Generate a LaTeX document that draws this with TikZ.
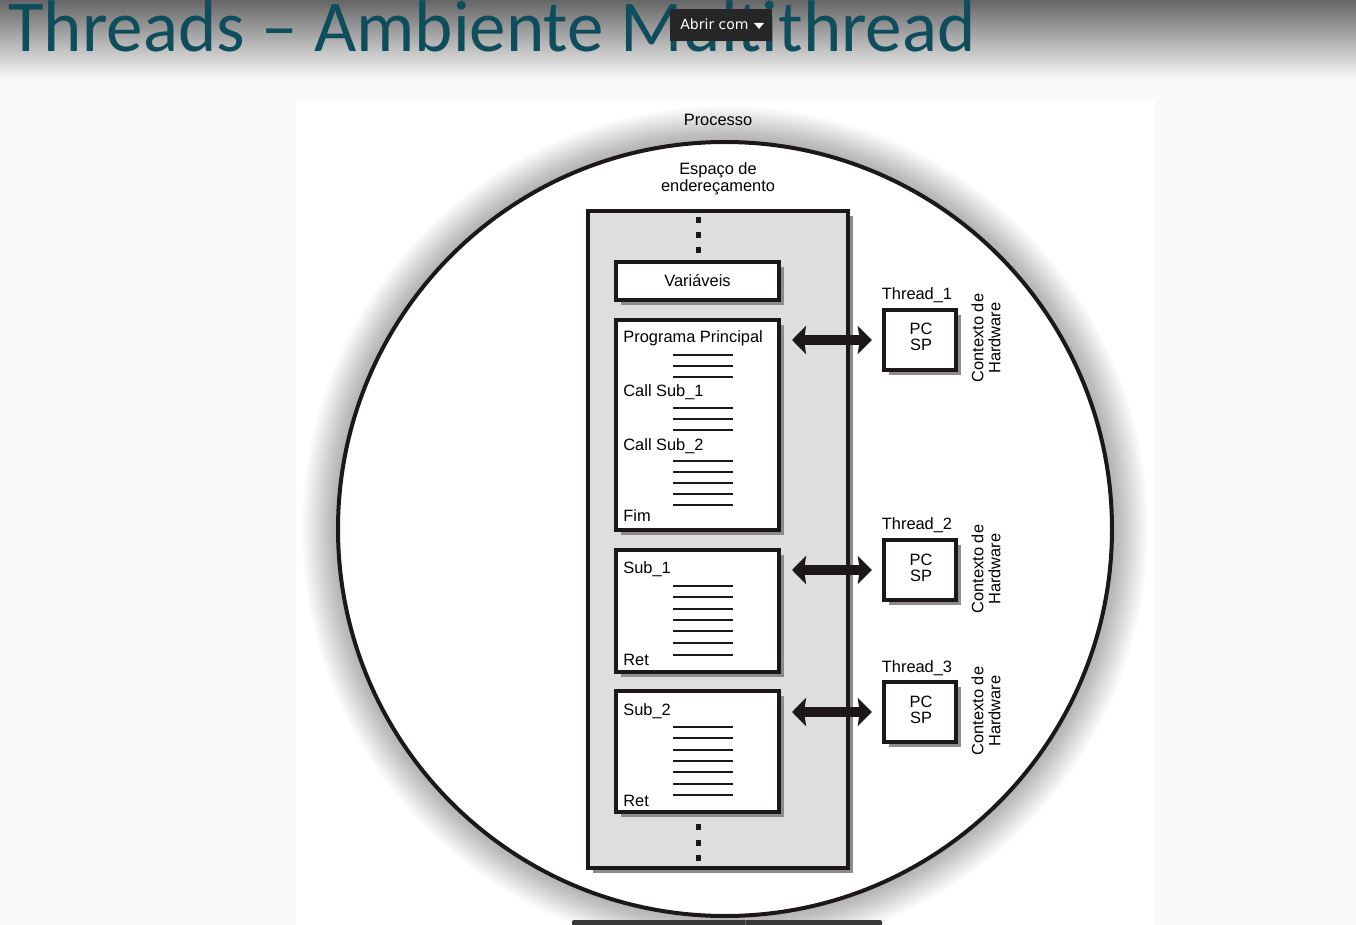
\documentclass[tikz,border=0pt]{standalone}
\usepackage{fontspec}
\setmainfont{Liberation Sans}
\newfontfamily\titlefont{Carlito}
\newfontfamily\uifont{DejaVu Sans}
\usetikzlibrary{shadows,arrows.meta}
\definecolor{titleteal}{RGB}{14,77,92}
\definecolor{boxgray}{RGB}{222,222,222}
\definecolor{shadowgray}{RGB}{140,140,140}
\definecolor{ink}{RGB}{28,24,24}
\begin{document}
\begin{tikzpicture}[x=0.5pt,y=-0.5pt,
  lbl/.style={inner sep=0pt, font=\fontsize{8.2}{9.6}\selectfont},
  boxshadow/.style={drop shadow={shadow xshift=2.5pt, shadow yshift=-2.5pt, fill=shadowgray, opacity=1}},
  codebox/.style={draw=ink, line width=2pt, fill=white, inner sep=0pt, minimum width=81.5pt, boxshadow},
  threadbox/.style={draw=ink, line width=2.2pt, fill=white, inner sep=0pt, minimum width=36pt, minimum height=30pt, boxshadow},
  dotsq/.style={fill=ink, inner sep=0pt, minimum width=2.5pt, minimum height=3pt},
  codeline/.style={draw=ink, line width=1pt},
  dblarrow/.style={draw=ink, line width=5pt, {Stealth[length=7pt,width=14pt,inset=1pt]}-{Stealth[length=7pt,width=14pt,inset=1pt]}, shorten <=5.5pt, shorten >=5pt},
  ctx/.style={lbl, rotate=90, align=center, font=\fontsize{8.2}{8.4}\selectfont}
]
\useasboundingbox (0,0) rectangle (1356,925);
% background
\fill[black!2] (0,0) rectangle (1356,925);
\fill[top color=black!60, bottom color=black!2] (0,0) rectangle (1356,80);
\fill[white] (296,100) rectangle (1155,925);
% title
\node[anchor=base west, inner sep=0pt, font=\titlefont\fontsize{36.5}{40}\selectfont, text=titleteal] (title) at (8,52) {Threads – Ambiente Multithread};
\node[fill=black!85, minimum width=51pt, minimum height=16pt, inner sep=0pt] (abrir) at (721,25) {};
\node[anchor=base west, inner sep=0pt, text=white, font=\uifont\fontsize{7}{8}\selectfont] (abrirtxt) at (680,30) {Abrir com};
\fill[white] (754,23) -- (764,23) -- (759,29) -- cycle;
% circle halo
\foreach \i in {1,...,20} {
  \fill[black, opacity=0.014] (725,529) circle[radius=387+1.8*\i];
}
\node[circle, draw=ink, line width=2pt, fill=white, minimum size=387pt, inner sep=0pt] (proc) at (725,529) {};
% bottom strip
\fill[black!78, rounded corners=1pt] (572,920) rectangle (882,932);
\draw[black!60] (745,920) -- (745,925);
% labels above
\node[lbl, anchor=base] (processo) at (718,126) {Processo};
\node[lbl, anchor=base] (espaco) at (718,175) {Espaço de};
\node[lbl, anchor=base] (ender) at (718,192) {endereçamento};
% address space
\node[draw=ink, line width=2pt, fill=boxgray, inner sep=0pt, minimum width=130pt, minimum height=328.5pt, boxshadow] (space) at (718,539.5) {};
\node[dotsq] (d1) at (698,220) {};
\node[dotsq] (d2) at (698,235) {};
\node[dotsq] (d3) at (698,250) {};
\node[dotsq] (d4) at (698,827) {};
\node[dotsq] (d5) at (698,843) {};
\node[dotsq] (d6) at (698,858) {};
% variables
\node[codebox, minimum height=19pt] (vars) at (697.5,281) {};
\node[lbl, anchor=base] (varstxt) at (697.5,287) {Variáveis};
% main program
\node[codebox, minimum height=105pt] (prog) at (697.5,425) {};
\node[lbl, anchor=base west] (pp) at (623,343) {Programa Principal};
\node[lbl, anchor=base west] (cs1) at (623,397) {Call Sub\_1};
\node[lbl, anchor=base west] (cs2) at (623,451) {Call Sub\_2};
\node[lbl, anchor=base west] (fim) at (623,522) {Fim};
\foreach \y in {355,366,377,408,419,430,461,472,483,494,505} {
  \draw[codeline] (673,\y) -- (733,\y);
}
% sub 1
\node[codebox, minimum height=61pt] (sub1) at (697.5,611) {};
\node[lbl, anchor=base west] (s1) at (623,574) {Sub\_1};
\node[lbl, anchor=base west] (r1) at (623,665) {Ret};
\foreach \y in {586,597,609,620,631,643,655} {
  \draw[codeline] (673,\y) -- (733,\y);
}
% sub 2
\node[codebox, minimum height=60.5pt] (sub2) at (697.5,751.5) {};
\node[lbl, anchor=base west] (s2) at (623,715) {Sub\_2};
\node[lbl, anchor=base west] (r2) at (623,806) {Ret};
\foreach \y in {727,738,750,761,772,784,795} {
  \draw[codeline] (673,\y) -- (733,\y);
}
% threads
\node[threadbox] (t1) at (920,340) {};
\node[lbl, anchor=base] (t1lbl) at (917,300) {Thread\_1};
\node[lbl, anchor=base] (t1pc) at (921,335) {PC};
\node[lbl, anchor=base] (t1sp) at (921,351) {SP};
\node[ctx] (c1) at (986,338) {Contexto de\\Hardware};

\node[threadbox] (t2) at (920,570) {};
\node[lbl, anchor=base] (t2lbl) at (917,530) {Thread\_2};
\node[lbl, anchor=base] (t2pc) at (921,565) {PC};
\node[lbl, anchor=base] (t2sp) at (921,581) {SP};
\node[ctx] (c2) at (986,569) {Contexto de\\Hardware};

\node[threadbox] (t3) at (920,712) {};
\node[lbl, anchor=base] (t3lbl) at (917,672) {Thread\_3};
\node[lbl, anchor=base] (t3pc) at (921,707) {PC};
\node[lbl, anchor=base] (t3sp) at (921,723) {SP};
\node[ctx] (c3) at (986,711) {Contexto de\\Hardware};
% arrows
\draw[dblarrow] (prog.east |- t1.west) -- (t1.west);
\draw[dblarrow] (sub1.east |- t2.west) -- (t2.west);
\draw[dblarrow] (sub2.east |- t3.west) -- (t3.west);
\end{tikzpicture}
\end{document}
